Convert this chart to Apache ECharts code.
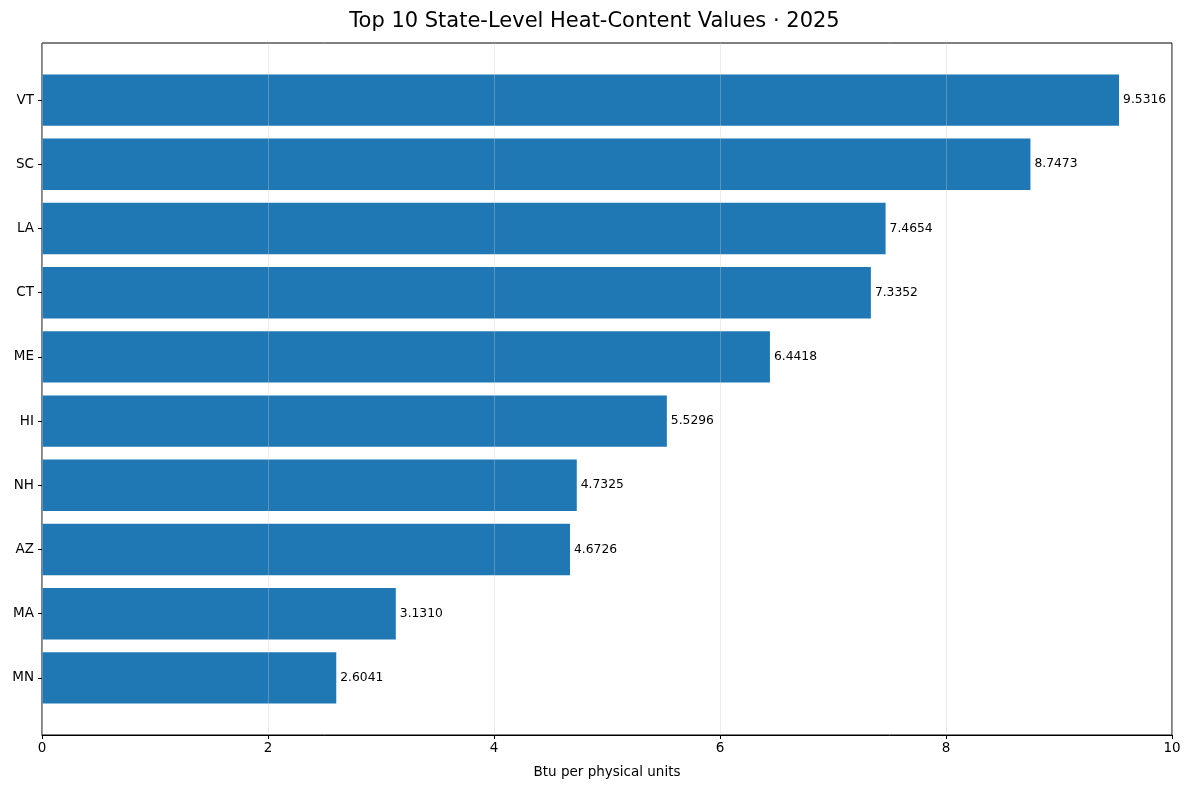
<!DOCTYPE html>
<html>
<head>
<meta charset="utf-8">
<script src="https://cdn.jsdelivr.net/npm/echarts@6/dist/echarts.min.js"></script>
<style>
  html, body { margin: 0; padding: 0; background: #fff; }
  #main { width: 1189px; height: 790px; }
</style>
</head>
<body>
<div id="main"></div>
<script>
// bottom to top, like the picture
const states = ['MN', 'MA', 'AZ', 'NH', 'HI', 'ME', 'CT', 'LA', 'SC', 'VT'];
const heatValues = [2.6041, 3.1310, 4.6726, 4.7325, 5.5296, 6.4418, 7.3352, 7.4654, 8.7473, 9.5316];
const xTicks = [0, 2, 4, 6, 8, 10];

const font = 'DejaVu Sans';
const chart = echarts.init(document.getElementById('main'));

const option = {
    animation: false,
    textStyle: { fontFamily: font },
    title: {
        text: 'Top 10 State-Level Heat-Content Values · 2025',
        left: 'center',
        top: 6,
        textStyle: { fontFamily: font, fontSize: 21, fontWeight: 'normal', color: '#000' }
    },
    grid: [
        // outer frame
        { left: 42, right: 17, top: 43, bottom: 55, show: true, borderColor: '#000', borderWidth: 1, backgroundColor: 'transparent' },
        // bars, inset like matplotlib's margins
        { left: 42, right: 17, top: 68, bottom: 80 }
    ],
    xAxis: [
        {
            gridIndex: 0, type: 'value', min: xTicks[0], max: xTicks[xTicks.length - 1], interval: 2,
            z: 5,
            axisLine: { show: true, lineStyle: { color: '#000', width: 1 } },
            axisTick: { show: true, length: 4, lineStyle: { color: '#000' } },
            axisLabel: { fontSize: 13.5, color: '#000', margin: 6, fontFamily: font },
            splitLine: { show: true, lineStyle: { color: 'rgba(200,200,200,0.35)', width: 1 } },
            name: 'Btu per physical units',
            nameLocation: 'middle',
            nameGap: 30,
            nameTextStyle: { fontSize: 13.5, color: '#000', fontFamily: font }
        },
        { gridIndex: 1, type: 'value', min: 0, max: 10, show: false }
    ],
    yAxis: [
        { gridIndex: 0, type: 'value', min: 0, max: 1, show: false },
        {
            gridIndex: 1, type: 'category', data: states,
            axisLine: { show: false },
            axisTick: { show: true, alignWithLabel: true, length: 4, lineStyle: { color: '#000' } },
            axisLabel: { fontSize: 13.5, color: '#000', margin: 8, fontFamily: font },
            splitLine: { show: false }
        }
    ],
    series: [
        {
            type: 'bar',
            xAxisIndex: 1,
            yAxisIndex: 1,
            data: heatValues,
            barWidth: '80%',
            itemStyle: { color: '#1f77b4' },
            label: {
                show: true,
                position: 'right',
                distance: 4,
                fontSize: 12.3,
                color: '#000',
                fontFamily: font,
                formatter: p => p.value.toFixed(4)
            }
        }
    ]
};

chart.setOption(option);
</script>
</body>
</html>
